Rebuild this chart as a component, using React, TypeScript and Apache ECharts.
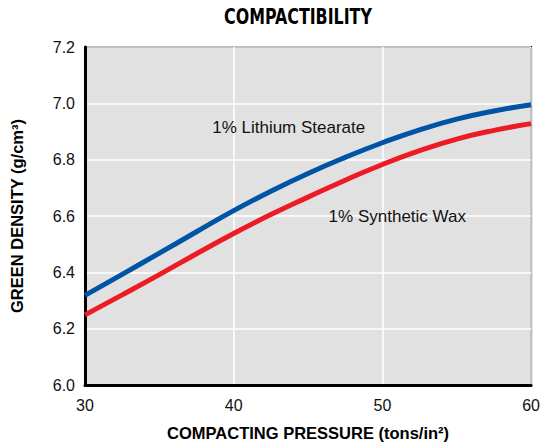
import React, { useEffect, useRef } from "react";
import * as echarts from "echarts";

const pressure = [30, 32.5, 35, 37.5, 40, 42.5, 45, 47.5, 50, 52.5, 55, 57.5, 60];
const lithiumStearate = [6.318, 6.393, 6.468, 6.544, 6.619, 6.688, 6.751, 6.808, 6.86, 6.906, 6.944, 6.973, 6.995];
const syntheticWax = [6.249, 6.32, 6.392, 6.466, 6.538, 6.605, 6.667, 6.727, 6.783, 6.832, 6.873, 6.904, 6.928];
const seriesNames = ["1% Lithium Stearate", "1% Synthetic Wax"];
const labelAnchors: [number, number][] = [
  [43.7, 6.915],
  [51.0, 6.6],
];

export default function App() {
  const ref = useRef<HTMLDivElement>(null);
  useEffect(() => {
    document.body.style.margin = "0";
    const chart = echarts.init(ref.current!, null, { renderer: "svg" });
    const font = "'Liberation Sans', Arial, Helvetica, sans-serif";
    const mk = (name: string, vals: number[], color: string, anchor: [number, number]) => ({
      name,
      type: "line",
      smooth: 0.5,
      symbol: "none",
      data: pressure.map((p, i) => [p, vals[i]]),
      lineStyle: { color, width: 5 },
      z: 3,
      markPoint: {
        symbol: "circle",
        symbolSize: 0,
        data: [{ coord: anchor }],
        label: {
          show: true,
          formatter: name,
          position: "inside",
          color: "#111",
          fontSize: 17,
          fontFamily: font,
        },
      },
    });
    chart.setOption({
      animation: false,
      backgroundColor: "#fff",
      graphic: [
        {
          type: "text",
          x: 298,
          y: 17,
          scaleX: 0.84,
          style: {
            text: "COMPACTIBILITY",
            fontFamily: "'Liberation Sans Narrow', 'DejaVu Sans Condensed', sans-serif",
            fontWeight: "bold",
            fontSize: 21,
            fill: "#000",
            align: "center",
            verticalAlign: "middle",
          },
        },
      ],
      grid: {
        left: 83,
        right: 11,
        top: 47,
        bottom: 58,
        show: true,
        backgroundColor: "#e1e1e1",
        borderColor: "#000",
        borderWidth: 2,
      },
      xAxis: {
        type: "value",
        min: 30,
        max: 60,
        interval: 10,
        name: "COMPACTING PRESSURE (tons/in²)",
        nameLocation: "middle",
        nameGap: 39,
        nameTextStyle: { fontFamily: font, fontWeight: "bold", fontSize: 16.5, color: "#000" },
        axisLine: { show: true, lineStyle: { color: "#000", width: 3 } },
        axisTick: { show: false },
        axisLabel: { fontFamily: font, fontSize: 16, color: "#111", margin: 12 },
        splitLine: { show: true, lineStyle: { color: "#fff", width: 1.5 } },
      },
      yAxis: {
        type: "value",
        min: 6.0,
        max: 7.2,
        interval: 0.2,
        name: "GREEN DENSITY (g/cm³)",
        nameLocation: "middle",
        nameGap: 60,
        nameRotate: 90,
        nameTextStyle: { fontFamily: font, fontWeight: "bold", fontSize: 16.5, color: "#000" },
        axisLine: { show: true, lineStyle: { color: "#000", width: 3 } },
        axisTick: { show: false },
        axisLabel: {
          fontFamily: font,
          fontSize: 16,
          color: "#111",
          margin: 10,
          formatter: (v: number) => v.toFixed(1),
        },
        splitLine: { show: true, lineStyle: { color: "#fff", width: 1.5 } },
      },
      series: [
        mk(seriesNames[0], lithiumStearate, "#0054a6", labelAnchors[0]),
        mk(seriesNames[1], syntheticWax, "#ed1c24", labelAnchors[1]),
      ],
    });
    return () => chart.dispose();
  }, []);
  return <div ref={ref} style={{ width: 543, height: 446 }} />;
}
